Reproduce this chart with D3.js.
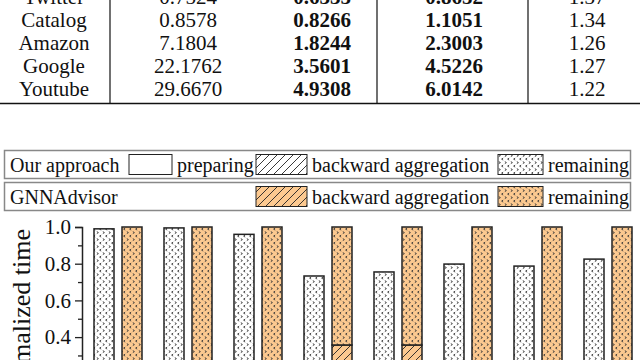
<!DOCTYPE html>
<html>
<head>
<meta charset="utf-8">
<script src="https://cdn.jsdelivr.net/npm/d3@7"></script>
<style>
    body { margin: 0; background: #ffffff; }
    svg { display: block; font-family: "Liberation Serif", "DejaVu Serif", serif; }
</style>
</head>
<body>
<div id="my_chart"></div>
<script>
// table rows (the top of the table is cut off in the picture)
const tableRows = ["Twitter", "Catalog", "Amazon", "Google", "Youtube"];
const colBase = ["0.7524", "0.8578", "7.1804", "22.1762", "29.6670"];
const colOurs = ["0.6335", "0.8266", "1.8244", "3.5601", "4.9308"];
const colGnna = ["0.8652", "1.1051", "2.3003", "4.5226", "6.0142"];
const colSpeedup = ["1.37", "1.34", "1.26", "1.27", "1.22"];

// bar chart data (x labels are below the visible area)
const categories = ["Cora", "Citeseer", "Pubmed", "Twitter", "Catalog", "Amazon", "Google", "Youtube"];
const oursPreparing = [0.04, 0.04, 0.04, 0.05, 0.05, 0.05, 0.05, 0.05];
const oursBackward = [0.14, 0.13, 0.13, 0.16, 0.16, 0.15, 0.15, 0.16];
const oursTotal = [0.99, 0.995, 0.96, 0.733, 0.755, 0.798, 0.787, 0.825];
const gnnaBackward = [0.24, 0.23, 0.22, 0.357, 0.357, 0.26, 0.25, 0.26];
const gnnaTotal = [1.0, 1.0, 1.0, 1.0, 1.0, 1.0, 1.0, 1.0];
const yTicks = [0, 0.2, 0.4, 0.6, 0.8, 1.0];

const ORANGE = "#fcc990";

const svg = d3.select("#my_chart")
    .append("svg")
    .attr("width", 640)
    .attr("height", 360);

const defs = svg.append("defs");

/**
 * diagonal hatch pattern "///"
 */
function makeHatch(id, bg) {
    const p = defs.append("pattern")
        .attr("id", id)
        .attr("patternUnits", "userSpaceOnUse")
        .attr("width", 8)
        .attr("height", 8);
    p.append("rect").attr("width", 8).attr("height", 8).attr("fill", bg);
    p.append("path")
        .attr("d", "M-1,9 L9,-1 M-2,2 L2,-2 M6,10 L10,6")
        .attr("stroke", "#222")
        .attr("stroke-width", 0.9);
}

/**
 * small "<" ">" marks pattern used for "remaining"
 */
function makeDots(id, bg) {
    const p = defs.append("pattern")
        .attr("id", id)
        .attr("patternUnits", "userSpaceOnUse")
        .attr("width", 6)
        .attr("height", 7);
    p.append("rect").attr("width", 6).attr("height", 7).attr("fill", bg);
    p.append("path")
        .attr("d", "M0.8,0.6 L2.4,1.6 L0.8,2.6 M5.2,4.1 L3.6,5.1 L5.2,6.1")
        .attr("fill", "none")
        .attr("stroke", "#333")
        .attr("stroke-width", 0.9);
}

makeHatch("hatchWhite", "#ffffff");
makeHatch("hatchOrange", ORANGE);
makeDots("dotsWhite", "#ffffff");
makeDots("dotsOrange", ORANGE);

// ---------- table ----------
const rowY = d3.scalePoint().domain(tableRows).range([-3, 89]);
const colX = [54, 188, 322, 454, 587];
const columns = [tableRows, colBase, colOurs, colGnna, colSpeedup];
const colBold = [false, false, true, true, false];

columns.forEach(function (col, ci) {
    svg.append("g").selectAll("text")
        .data(col)
        .join("text")
        .attr("x", colX[ci])
        .attr("y", function (d, i) { return rowY(tableRows[i]); })
        .attr("dy", "0.35em")
        .attr("text-anchor", "middle")
        .attr("font-size", "21px")
        .attr("font-weight", colBold[ci] ? "bold" : "normal")
        .attr("fill", "#111")
        .text(function (d) { return d; });
});

// table rules
[110, 377, 528].forEach(function (x) {
    svg.append("line")
        .attr("x1", x).attr("x2", x)
        .attr("y1", -5).attr("y2", 103)
        .attr("stroke", "#111").attr("stroke-width", 1.2);
});
svg.append("line")
    .attr("x1", 0).attr("x2", 640)
    .attr("y1", 103.5).attr("y2", 103.5)
    .attr("stroke", "#111").attr("stroke-width", 1.6);

// ---------- legends ----------
function legendRow(top, label, items) {
    const g = svg.append("g");
    g.append("rect")
        .attr("x", 4.5).attr("y", top)
        .attr("width", 626).attr("height", 28)
        .attr("fill", "none")
        .attr("stroke", "#888")
        .attr("stroke-width", 1.5);
    g.append("text")
        .attr("x", 10).attr("y", top + 14)
        .attr("dy", "0.35em")
        .attr("font-size", "20px")
        .attr("fill", "#111")
        .text(label);
    items.forEach(function (it) {
        g.append("rect")
            .attr("x", it.x).attr("y", top + 4)
            .attr("width", it.w).attr("height", 20)
            .attr("fill", it.fill)
            .attr("stroke", "#222")
            .attr("stroke-width", 1);
        g.append("text")
            .attr("x", it.x + it.w + 5).attr("y", top + 14)
            .attr("dy", "0.35em")
            .attr("font-size", "20px")
            .attr("fill", "#111")
            .text(it.text);
    });
}

legendRow(150.5, "Our approach", [
    {x: 129, w: 43, fill: "#ffffff", text: "preparing"},
    {x: 256, w: 51, fill: "url(#hatchWhite)", text: "backward aggregation"},
    {x: 498, w: 45, fill: "url(#dotsWhite)", text: "remaining"}
]);
legendRow(182.5, "GNNAdvisor", [
    {x: 256, w: 51, fill: "url(#hatchOrange)", text: "backward aggregation"},
    {x: 498, w: 45, fill: "url(#dotsOrange)", text: "remaining"}
]);

// ---------- bar chart ----------
const y = d3.scaleLinear().domain([0, 1]).range([410.5, 227]);
const x0 = d3.scaleBand().domain(categories).range([83, 643]).padding(0);
const x1 = d3.scaleBand().domain(["ours", "gnna"]).range([11, 59]).paddingInner(8 / 28);

// build stacked segments from the arrays
const segments = [];
categories.forEach(function (c, i) {
    const p = oursPreparing[i], b = oursBackward[i];
    segments.push({cat: c, s: "ours", y0: 0, y1: p, fill: "#ffffff"});
    segments.push({cat: c, s: "ours", y0: p, y1: p + b, fill: "url(#hatchWhite)"});
    segments.push({cat: c, s: "ours", y0: p + b, y1: oursTotal[i], fill: "url(#dotsWhite)"});
    segments.push({cat: c, s: "gnna", y0: 0, y1: gnnaBackward[i], fill: "url(#hatchOrange)"});
    segments.push({cat: c, s: "gnna", y0: gnnaBackward[i], y1: gnnaTotal[i], fill: "url(#dotsOrange)"});
});

svg.append("g").selectAll("rect")
    .data(segments)
    .join("rect")
    .attr("x", function (d) { return x0(d.cat) + x1(d.s); })
    .attr("y", function (d) { return y(d.y1); })
    .attr("width", x1.bandwidth())
    .attr("height", function (d) { return y(d.y0) - y(d.y1); })
    .attr("fill", function (d) { return d.fill; })
    .attr("stroke", "#222")
    .attr("stroke-width", 1.5);

// y axis
const yAxis = svg.append("g")
    .attr("transform", "translate(82,0)")
    .call(d3.axisLeft(y).tickValues(yTicks).tickFormat(d3.format(".1f")).tickSize(7).tickPadding(4));
yAxis.select(".domain").attr("stroke", "#222").attr("stroke-width", 1.5);
yAxis.selectAll(".tick line").attr("stroke", "#222").attr("stroke-width", 1.3);
yAxis.selectAll("text")
    .attr("font-family", "Liberation Serif, serif")
    .attr("font-size", "21px")
    .attr("fill", "#111");

// minor ticks
svg.append("g")
    .attr("transform", "translate(82,0)")
    .call(d3.axisLeft(y).tickValues([0.1, 0.3, 0.5, 0.7, 0.9]).tickFormat("").tickSize(4))
    .call(function (g) { g.select(".domain").remove(); })
    .selectAll(".tick line").attr("stroke", "#222").attr("stroke-width", 1.3);

// axis title
svg.append("text")
    .attr("transform", "translate(30,229) rotate(-90)")
    .attr("text-anchor", "end")
    .attr("font-size", "26px")
    .attr("fill", "#111")
    .text("Normalized time");
</script>
</body>
</html>
